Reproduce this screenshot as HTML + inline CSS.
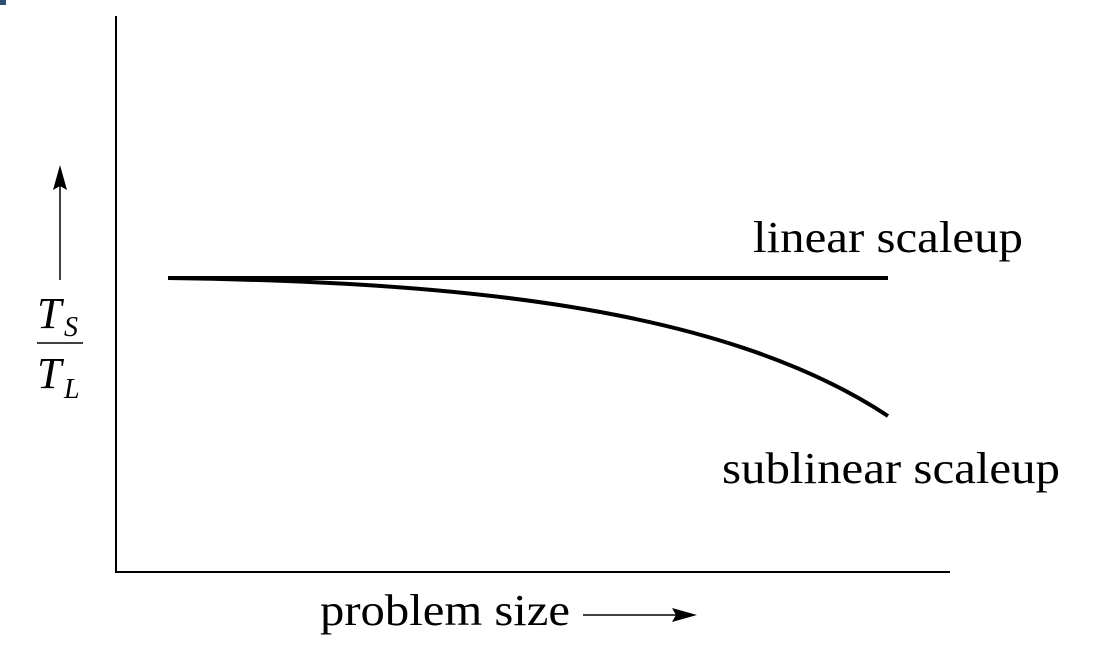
<!DOCTYPE html>
<html><head><style>body{margin:0;background:#fff}svg{display:block}</style></head>
<body>
<svg width="1094" height="655" viewBox="0 0 1094 655" xmlns="http://www.w3.org/2000/svg" font-family="Liberation Serif, serif">
<rect x="0" y="0" width="6" height="5" fill="#2d4f73"/>
<line x1="116" y1="16" x2="116" y2="573" stroke="#000" stroke-width="2"/>
<line x1="115" y1="572" x2="950" y2="572" stroke="#000" stroke-width="2"/>
<line x1="60" y1="280" x2="60" y2="180" stroke="#000" stroke-width="1.5"/>
<polygon points="60,165 53,190 60,186 67,190" fill="#000"/>
<text x="37" y="328" font-size="44" font-style="italic">T</text>
<text x="64" y="336" font-size="28" font-style="italic">S</text>
<line x1="37" y1="343" x2="83" y2="343" stroke="#000" stroke-width="1.5"/>
<text x="37" y="388" font-size="44" font-style="italic">T</text>
<text x="64" y="398" font-size="28" font-style="italic">L</text>
<line x1="168" y1="278" x2="888" y2="278" stroke="#000" stroke-width="4"/>
<path d="M168 278 C 450 282, 720 305, 888 416" fill="none" stroke="#000" stroke-width="4"/>
<text x="753" y="252" font-size="44" textLength="270" lengthAdjust="spacingAndGlyphs">linear scaleup</text>
<text x="722" y="483" font-size="44" textLength="338" lengthAdjust="spacingAndGlyphs">sublinear scaleup</text>
<text x="320" y="625" font-size="44" textLength="250" lengthAdjust="spacingAndGlyphs">problem size</text>
<line x1="583" y1="615" x2="682" y2="615" stroke="#000" stroke-width="1.5"/>
<polygon points="697,615 672,608 676,615 672,622" fill="#000"/>
</svg>
</body></html>
